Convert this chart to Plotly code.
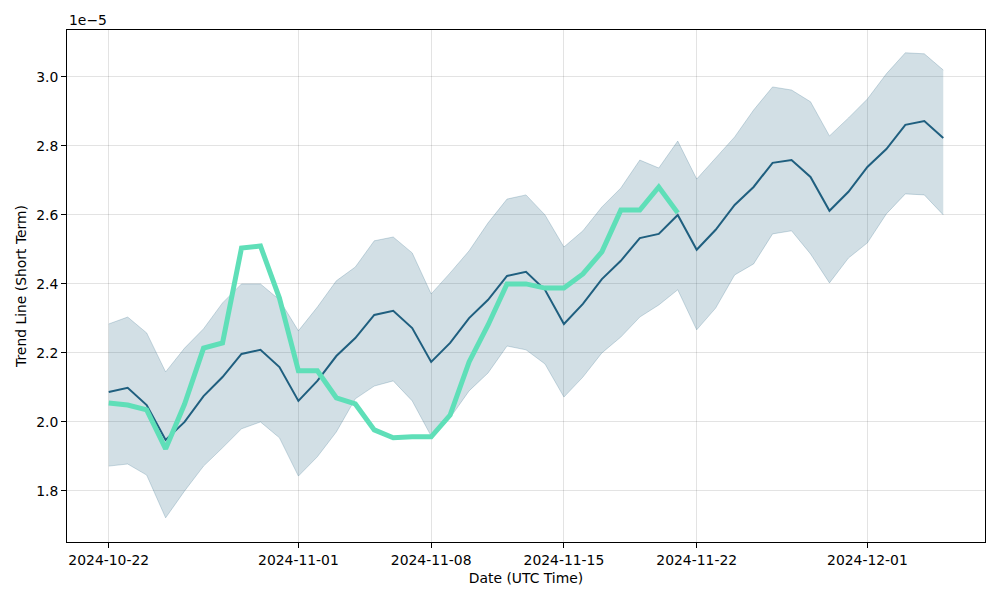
import pandas as pd
import plotly.graph_objects as go

dates = pd.date_range("2024-10-22", "2024-12-05", freq="D")

# values in units of 1e-5
trend = [2.087, 2.099, 2.049, 1.948, 2.000, 2.075, 2.130, 2.197, 2.209, 2.159,
         2.061, 2.119, 2.191, 2.243, 2.310, 2.322, 2.272, 2.174, 2.229, 2.301,
         2.354, 2.423, 2.435, 2.383, 2.284, 2.342, 2.414, 2.467, 2.533, 2.545,
         2.600, 2.499, 2.557, 2.629, 2.681, 2.751, 2.759, 2.710, 2.612, 2.667,
         2.739, 2.791, 2.861, 2.872, 2.823]
upper = [2.284, 2.304, 2.258, 2.145, 2.214, 2.270, 2.345, 2.400, 2.400, 2.354,
         2.264, 2.333, 2.409, 2.449, 2.525, 2.536, 2.490, 2.371, 2.432, 2.496,
         2.577, 2.646, 2.658, 2.600, 2.507, 2.554, 2.623, 2.678, 2.759, 2.736,
         2.814, 2.704, 2.765, 2.826, 2.904, 2.971, 2.962, 2.928, 2.829, 2.881,
         2.936, 3.009, 3.070, 3.067, 3.020]
lower = [1.872, 1.878, 1.846, 1.722, 1.800, 1.872, 1.925, 1.980, 2.000, 1.954,
         1.843, 1.899, 1.971, 2.067, 2.104, 2.119, 2.061, 1.959, 2.012, 2.090,
         2.142, 2.220, 2.209, 2.168, 2.072, 2.130, 2.200, 2.246, 2.304, 2.339,
         2.383, 2.267, 2.330, 2.426, 2.458, 2.545, 2.554, 2.487, 2.403, 2.475,
         2.519, 2.603, 2.661, 2.658, 2.600]
actual = [2.055, 2.049, 2.035, 1.922, 2.052, 2.214, 2.229, 2.504, 2.510, 2.359,
          2.148, 2.148, 2.070, 2.052, 1.977, 1.954, 1.957, 1.957, 2.020, 2.174,
          2.281, 2.400, 2.400, 2.388, 2.388, 2.429, 2.493, 2.614, 2.614, 2.681,
          2.606]

x_ticks = ["2024-10-22", "2024-11-01", "2024-11-08", "2024-11-15", "2024-11-22", "2024-12-01"]
y_ticks = [1.8, 2.0, 2.2, 2.4, 2.6, 2.8, 3.0]

fig = go.Figure()
fig.add_trace(go.Scatter(x=dates, y=lower, mode="lines",
                         line=dict(color="rgba(31,95,127,0.22)", width=1),
                         showlegend=False, hoverinfo="skip"))
fig.add_trace(go.Scatter(x=dates, y=upper, mode="lines", fill="tonexty",
                         fillcolor="rgba(31,95,127,0.2)",
                         line=dict(color="rgba(31,95,127,0.22)", width=1),
                         showlegend=False, hoverinfo="skip"))
fig.add_trace(go.Scatter(x=dates, y=trend, mode="lines",
                         line=dict(color="#1f5f7f", width=2), showlegend=False))
fig.add_trace(go.Scatter(x=dates[:len(actual)], y=actual, mode="lines",
                         line=dict(color="#5fdfb8", width=5), showlegend=False))

x0 = dates[0] - pd.Timedelta(days=2.2)
x1 = dates[-1] + pd.Timedelta(days=2.2)

fig.update_layout(
    width=1000, height=600,
    margin=dict(l=67, r=15, t=30, b=58),
    paper_bgcolor="white", plot_bgcolor="white",
    font=dict(family="DejaVu Sans", size=13.9, color="black"),
    xaxis=dict(range=[x0, x1], tickvals=x_ticks, ticktext=x_ticks,
               showgrid=True, gridcolor="rgba(0,0,0,0.11)", gridwidth=1,
               showline=True, linecolor="black", linewidth=1, mirror=True,
               ticks="outside", ticklen=5, tickcolor="black",
               title=dict(text="Date (UTC Time)", font=dict(size=13.9), standoff=6),
               zeroline=False),
    yaxis=dict(range=[1.652, 3.136], tickvals=y_ticks,
               ticktext=[f"{v:.1f}" for v in y_ticks],
               showgrid=True, gridcolor="rgba(0,0,0,0.11)", gridwidth=1,
               showline=True, linecolor="black", linewidth=1, mirror=True,
               ticks="outside", ticklen=5, tickcolor="black",
               title=dict(text="Trend Line (Short Term)", font=dict(size=13.9), standoff=6),
               zeroline=False),
    annotations=[dict(text="1e\u22125", xref="paper", yref="paper", x=0, y=1,
                      xanchor="left", yanchor="bottom", showarrow=False,
                      font=dict(size=13.9), yshift=0)],
)

fig.write_html("out.html")
